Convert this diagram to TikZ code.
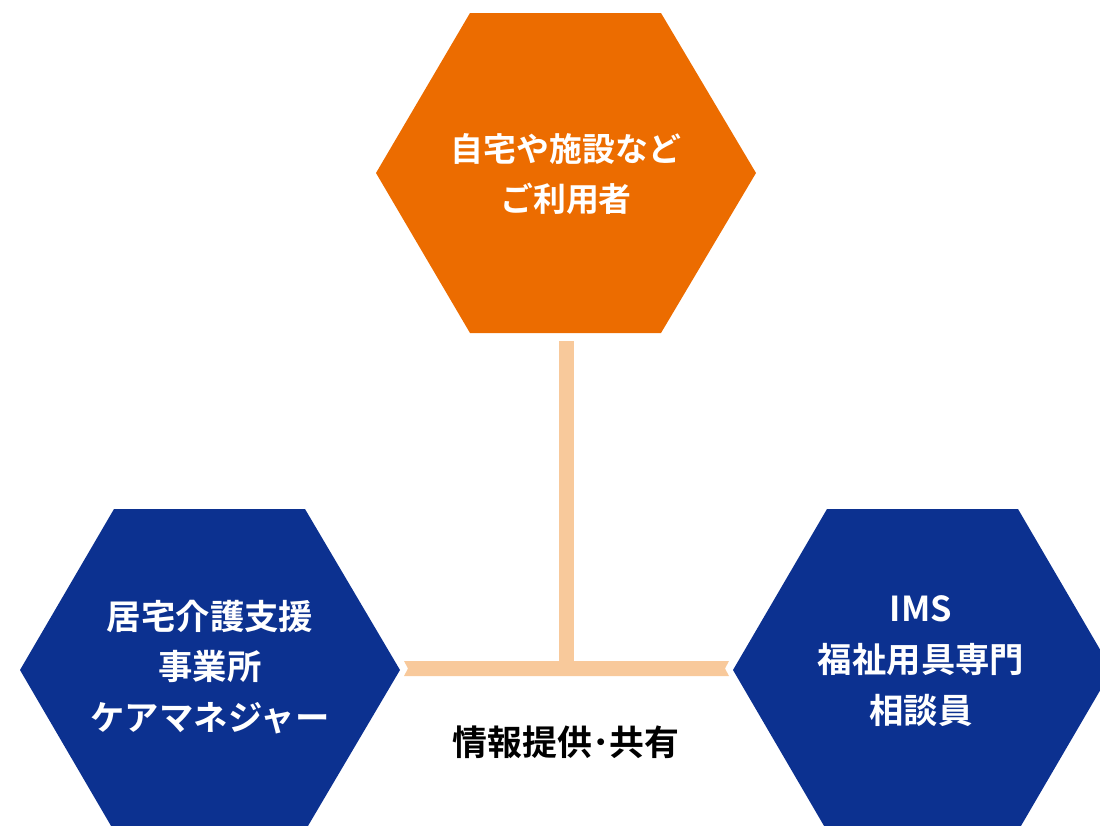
\documentclass[tikz,border=0pt]{standalone}
\usepackage{fontspec}
\newfontfamily\jp{Noto Sans CJK JP}[BoldFont={Noto Sans CJK JP Bold}]
\usetikzlibrary{calc}
\definecolor{hexorange}{HTML}{EC6C00}
\definecolor{hexblue}{HTML}{0C3190}
\definecolor{barcol}{HTML}{F8C99B}
\begin{document}
\begin{tikzpicture}[x=1bp,y=-1bp,
  hexo/.style={fill=hexorange},
  hexb/.style={fill=hexblue},
  hextext/.style={text=white,align=center,font=\jp\bfseries\fontsize{33}{51}\selectfont},
  hextextb/.style={text=white,align=center,font=\jp\bfseries\fontsize{34.5}{51}\selectfont},
  labeltext/.style={text=black,align=center,font=\jp\bfseries\fontsize{35}{40}\selectfont},
  barline/.style={draw=barcol,line width=15bp},
  barfill/.style={fill=barcol}]
\useasboundingbox (0,0) rectangle (1100,826);
\clip (0,0) rectangle (1100,826);
% hexagons
\fill[hexo] (376,173) -- (470,13) -- (661,13) -- (756,173) -- (661,333) -- (470,333) -- cycle;
\fill[hexb] (20,670) -- (114,509) -- (305,509) -- (400,670) -- (305,831) -- (114,831) -- cycle;
\fill[hexb] (733,670) -- (827,509) -- (1018,509) -- (1112,670) -- (1018,831) -- (827,831) -- cycle;
% texts
\node[hextext] (user) at (566,174) {自宅や施設など\\ご利用者};
\node[hextextb] (cm) at (210,667) {居宅介護支援\\事業所\\ケアマネジャー};
\node[hextextb] (ims) at (921,661) {IMS\\福祉用具専門\\相談員};
\node[labeltext] (share) at (566,742) {情報提供･共有};
% connector anchor points
\coordinate (userB) at (566.5,341);
\coordinate (hub) at (566.5,668.5);
\coordinate (L) at (404,668.5);
\coordinate (R) at (729,668.5);
% connectors
\draw[barline] (userB) -- (hub);
\fill[barfill] ($(L)+(0,-7.5)$) -- ($(R)+(0,-7.5)$) -- ($(R)+(-4,0)$) -- ($(R)+(0,7.5)$)
  -- ($(L)+(0,7.5)$) -- ($(L)+(4,0)$) -- cycle;
\end{tikzpicture}
\end{document}
